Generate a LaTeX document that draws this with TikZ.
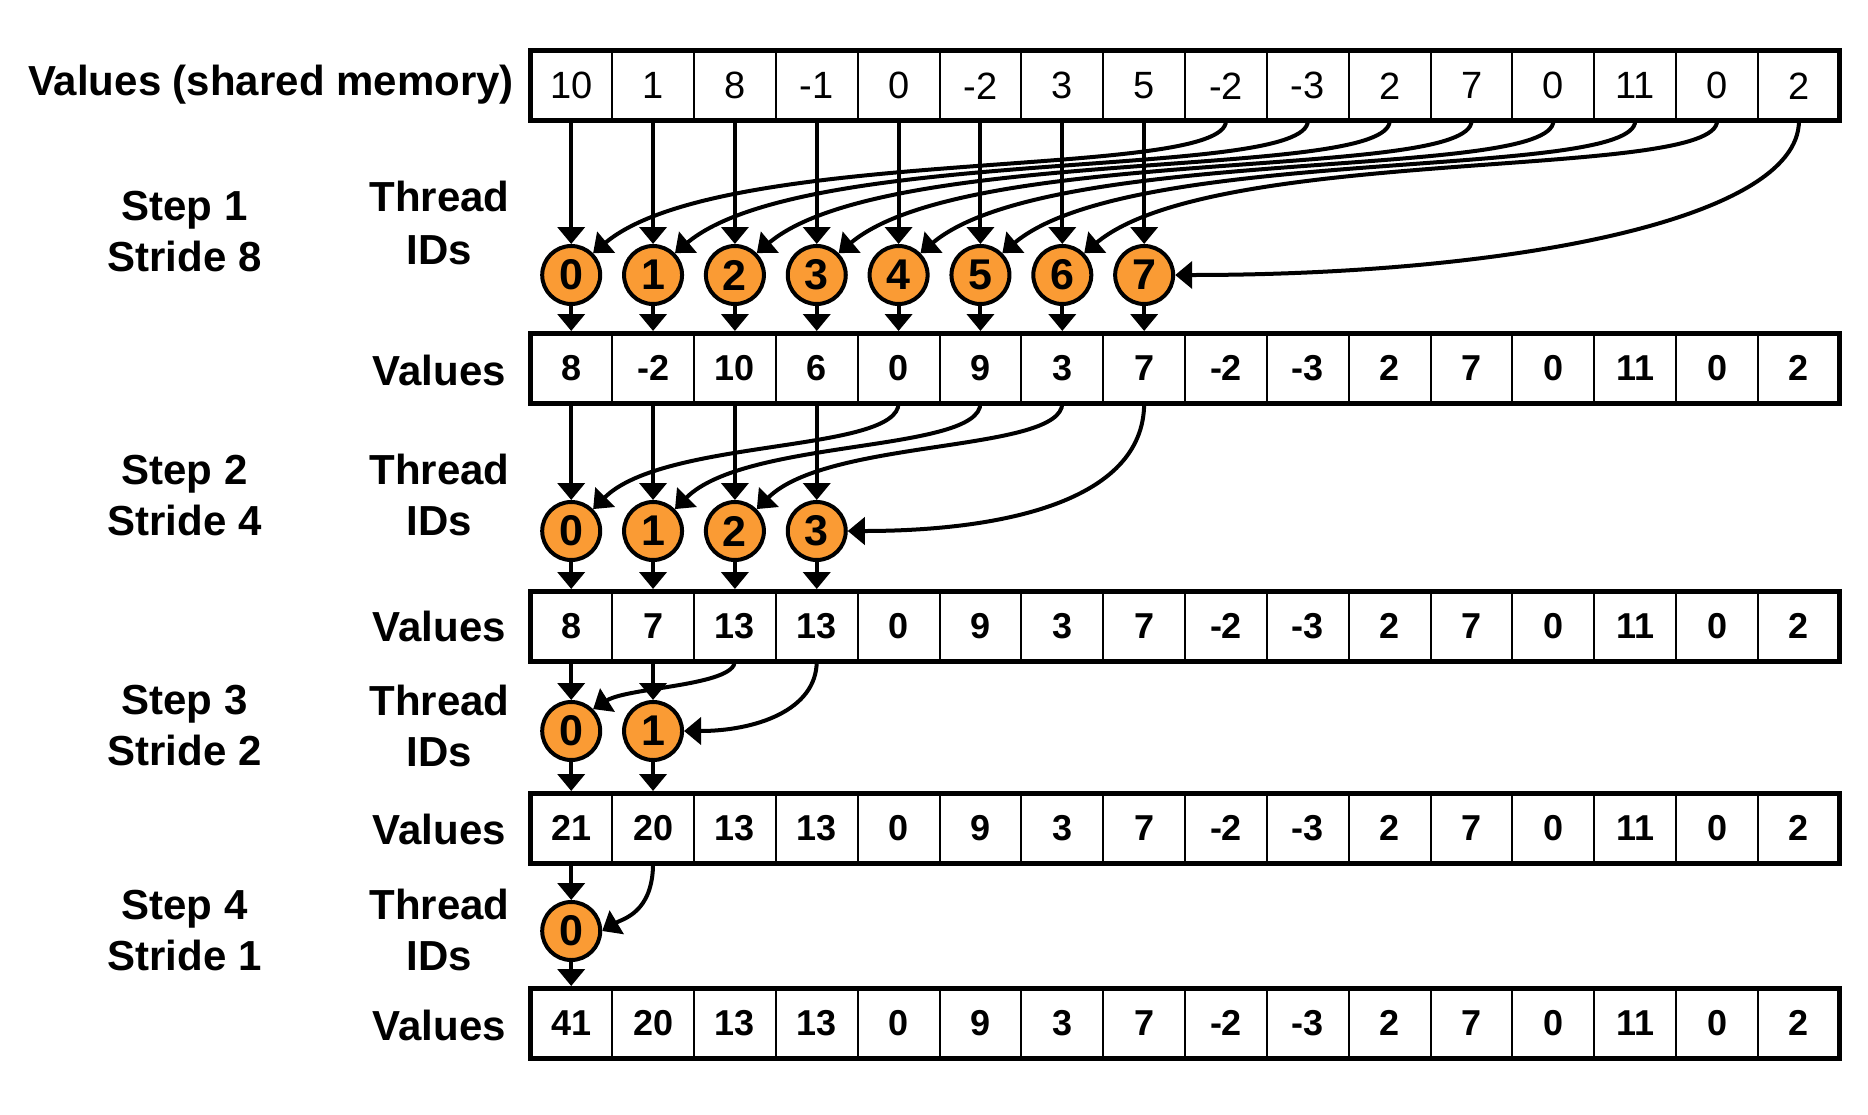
\documentclass[tikz,border=0pt]{standalone}
\usepackage{fontspec}
\setmainfont{Liberation Sans}
\usetikzlibrary{arrows.meta}
\definecolor{tidorange}{RGB}{250,155,52}
\tikzset{
  cellbox/.style={draw, line width=2pt, minimum width=81.85pt, minimum height=70pt, inner sep=0pt, outer sep=0pt, font=\fontsize{36}{40}\selectfont\bfseries},
  topcell/.style={cellbox, font=\fontsize{38}{42}\selectfont},
  tid/.style={circle, draw, line width=4pt, fill=tidorange, minimum size=58pt, inner sep=0pt, font=\fontsize{43}{46}\selectfont\bfseries},
  lbl/.style={font=\fontsize{42}{46}\selectfont\bfseries, inner sep=0pt, anchor=base},
  rowlbl/.style={lbl, anchor=base east},
  rowframe/.style={draw, line width=5pt},
  arr/.style={line width=4pt, -{Triangle[width=27pt,length=17pt]}},
}
\begin{document}
\begin{tikzpicture}[x=1pt,y=-1pt]
\useasboundingbox (0,0) rectangle (1868,1114);

% arrays
\foreach \v [count=\i from 0] in {10,1,8,-1,0,-2,3,5,-2,-3,2,7,0,11,0,2}
  \node[topcell] (r0c\i) at ({571.2+81.85*\i},85.75) {\v};
\foreach \v [count=\i from 0] in {8,-2,10,6,0,9,3,7,-2,-3,2,7,0,11,0,2}
  \node[cellbox] (r1c\i) at ({571.2+81.85*\i},368) {\v};
\foreach \v [count=\i from 0] in {8,7,13,13,0,9,3,7,-2,-3,2,7,0,11,0,2}
  \node[cellbox] (r2c\i) at ({571.2+81.85*\i},626) {\v};
\foreach \v [count=\i from 0] in {21,20,13,13,0,9,3,7,-2,-3,2,7,0,11,0,2}
  \node[cellbox] (r3c\i) at ({571.2+81.85*\i},828) {\v};
\foreach \v [count=\i from 0] in {41,20,13,13,0,9,3,7,-2,-3,2,7,0,11,0,2}
  \node[cellbox] (r4c\i) at ({571.2+81.85*\i},1023) {\v};
\foreach \r in {0,...,4}
  \draw[rowframe] (r\r c0.north west) rectangle (r\r c15.south east);

% thread circles
\foreach \i in {0,...,7} \node[tid] (s1t\i) at ({571.2+81.85*\i},275) {\i};
\foreach \i in {0,...,3} \node[tid] (s2t\i) at ({571.2+81.85*\i},531) {\i};
\foreach \i in {0,...,1} \node[tid] (s3t\i) at ({571.2+81.85*\i},731) {\i};
\node[tid] (s4t0) at (571.2,931) {0};

% labels
\node[rowlbl] (lbltop) at (514,95) {Values (shared memory)};
\node[rowlbl] (lblv1) at (506,385) {Values};
\node[rowlbl] (lblv2) at (506,641.5) {Values};
\node[rowlbl] (lblv3) at (506,844) {Values};
\node[rowlbl] (lblv4) at (506,1040.5) {Values};

\node[lbl] (step1) at (184.6,220) {Step 1};
\node[lbl] (stride1) at (184.6,271) {Stride 8};
\node[lbl] (thr1) at (439.5,211.5) {Thread};
\node[lbl] (ids1) at (439.5,264) {IDs};

\node[lbl] (step2) at (184.6,484) {Step 2};
\node[lbl] (stride2) at (184.6,535.5) {Stride 4};
\node[lbl] (thr2) at (439.5,484) {Thread};
\node[lbl] (ids2) at (439.5,535.5) {IDs};

\node[lbl] (step3) at (184.6,714) {Step 3};
\node[lbl] (stride3) at (184.6,765) {Stride 2};
\node[lbl] (thr3) at (439.5,715) {Thread};
\node[lbl] (ids3) at (439.5,766.5) {IDs};

\node[lbl] (step4) at (184.6,919) {Step 4};
\node[lbl] (stride4) at (184.6,970) {Stride 1};
\node[lbl] (thr4) at (439.5,919) {Thread};
\node[lbl] (ids4) at (439.5,970) {IDs};

% step 1 connectors
\foreach \i in {0,...,7} {
  \draw[arr] (r0c\i.south) -- (s1t\i.north);
  \draw[arr, shorten >=2pt] (s1t\i.south) -- (r1c\i.north);
}
\foreach \i in {0,...,6} {
  \pgfmathtruncatemacro\j{\i+8}
  \draw[arr] (r0c\j.south) .. controls +(0,60) and +(130,-109) .. (s1t\i.north east);
}
\draw[arr] (r0c15.south) .. controls +(0,100) and +(330,0) .. (s1t7.east);

% step 2 connectors
\foreach \i in {0,...,3} {
  \draw[arr] (r1c\i.south) -- (s2t\i.north);
  \draw[arr, shorten >=2pt] (s2t\i.south) -- (r2c\i.north);
}
\foreach \i in {0,...,2} {
  \pgfmathtruncatemacro\j{\i+4}
  \draw[arr] (r1c\j.south) .. controls +(0,50) and +(71,-71) .. (s2t\i.north east);
}
\draw[arr] (r1c7.south) .. controls +(0,100) and +(150,0) .. (s2t3.east);

% step 3 connectors
\foreach \i in {0,1} {
  \draw[arr] (r2c\i.south) -- (s3t\i.north);
  \draw[arr, shorten >=2pt] (s3t\i.south) -- (r3c\i.north);
}
\draw[arr] (r2c2.south) .. controls +(0,25) and +(35,-22) .. (s3t0.north east);
\draw[arr] (r2c3.south) .. controls +(0,50) and +(70,0) .. (s3t1.east);

% step 4 connectors
\draw[arr] (r3c0.south) -- (s4t0.north);
\draw[arr, shorten >=2pt] (s4t0.south) -- (r4c0.north);
\draw[arr] (r3c1.south) .. controls +(0,50) and +(20,-12) .. (s4t0.east);
\end{tikzpicture}
\end{document}
